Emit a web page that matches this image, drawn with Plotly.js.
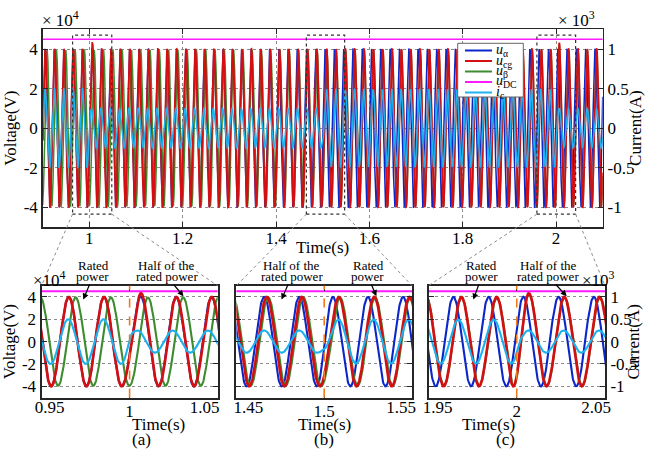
<!DOCTYPE html>
<html><head><meta charset="utf-8">
<script src="https://cdn.plot.ly/plotly-3.0.1.min.js"></script>
<style>html,body{margin:0;padding:0;background:#fff}#chart{width:645px;height:449px}</style>
</head><body><div id="chart"></div>
<script>
// ================= data =================
const seriesNames = ['<i>u</i><sub>α</sub>', '<i>u</i><sub>cg</sub>', '<i>u</i><sub>β</sub>', '<i>u</i><sub>DC</sub>', '<i>i</i><sub>c</sub>'];
const gridFreqHz = 50;
const timeStart = 0.9, timeEnd = 2.1, sampleStep = 0.00025;

// times (s) at which the phase of each waveform was read
const phaseKnotTimes = [0.90, 0.995, 1.005, 1.05, 1.30, 1.45, 1.495, 1.505, 1.55, 1.95, 1.995, 2.005, 2.10];
// instant of the positive peak inside each 20 ms cycle (ms)
const peakMsUalpha = [5.5, 5.5, 6.3, 6.5, 7.0, 5.8, 5.8, 4.9, 4.9, 4.1, 4.1, 3.7, 3.7];
const peakMsUcg    = [5.5, 5.5, 6.5, 6.7, 7.1, 7.3, 7.3, 8.3, 8.6, 8.6, 8.6, 6.9, 6.9];
const peakMsUbeta  = [9.4, 9.4, 10.4, 10.4, 9.0, 8.1, 8.1, 9.0, 9.0, 8.8, 8.8, 7.1, 7.1];
const peakMsIc     = [5.1, 5.1, 4.4, 4.4, 5.5, 5.8, 5.8, 8.1, 8.1, 6.9, 6.9, 6.6, 6.6];

// times (s) at which the amplitude of each waveform was read
const ampKnotTimes = [0.90, 0.999, 1.003, 1.006, 1.016, 1.499, 1.503, 1.999, 2.003, 2.006, 2.016, 2.10];
const ampUalpha = [4.0e4, 4.0e4, 4.0e4, 4.05e4, 4.0e4, 4.0e4, 4.0e4, 4.0e4, 4.0e4, 4.05e4, 4.0e4, 4.0e4];
const ampUcg    = [4.0e4, 4.0e4, 4.1e4, 4.35e4, 4.0e4, 4.0e4, 4.0e4, 4.0e4, 4.1e4, 4.35e4, 4.0e4, 4.0e4];
const ampUbeta  = [3.95e4, 3.95e4, 3.95e4, 3.95e4, 3.95e4, 3.95e4, 3.95e4, 3.95e4, 4.05e4, 4.25e4, 3.95e4, 3.95e4];
const ampIc     = [500, 500, 250, 250, 250, 250, 490, 490, 250, 250, 250, 250];
const udcVolts  = 4.5e4;

// tick labels
const mainTimeTicks = [1, 1.2, 1.4, 1.6, 1.8, 2];
const mainTimeText  = ['1', '1.2', '1.4', '1.6', '1.8', '2'];
const voltTickVals  = [-4e4, -2e4, 0, 2e4, 4e4];
const voltTickText  = ['-4', '-2', '0', '2', '4'];
const currTickVals  = [-1000, -500, 0, 500, 1000];
const currTickText  = ['-1', '-0.5', '0', '0.5', '1'];
const zoomWindows   = [[0.95, 1.05], [1.45, 1.55], [1.95, 2.05]];
const zoomTickVals  = [[0.95, 1, 1.05], [1.45, 1.5, 1.55], [1.95, 2, 2.05]];
const zoomTickText  = [['0.95', '1', '1.05'], ['1.45', '1.5', '1.55'], ['1.95', '2', '2.05']];
const stepTimes     = [1.0, 1.5, 2.0];
const panelLetters  = ['(a)', '(b)', '(c)'];
// dashed boxes drawn on the overview (s, V)
const zoomBoxT0 = [0.964, 1.465, 1.959];
const zoomBoxT1 = [1.048, 1.547, 2.042];
const zoomBoxVTop = 4.71e4, zoomBoxVBottom = -4.35e4;

// ================= build waveforms =================
function lerp(ts, vs, t) {
  if (t <= ts[0]) return vs[0];
  for (let i = 1; i < ts.length; i++) {
    if (t <= ts[i]) { const f = (t - ts[i-1]) / (ts[i] - ts[i-1]); return vs[i-1] + f * (vs[i] - vs[i-1]); }
  }
  return vs[vs.length - 1];
}
const time = [];
for (let k = 0; ; k++) { const t = timeStart + k * sampleStep; if (t > timeEnd + 1e-9) break; time.push(+t.toFixed(6)); }
function wave(peakMs, amp) {
  return time.map(t => lerp(ampKnotTimes, amp, t) *
    Math.cos(2 * Math.PI * gridFreqHz * (t - lerp(phaseKnotTimes, peakMs, t) / 1000)));
}
const uAlpha = wave(peakMsUalpha, ampUalpha);
const uCg = wave(peakMsUcg, ampUcg);
const uBeta = wave(peakMsUbeta, ampUbeta);
const iC = wave(peakMsIc, ampIc);
const uDc = time.map(() => udcVolts);

// ================= styling =================
const FONT = '"Liberation Serif", "Times New Roman", serif';
const W = 645, H = 449;
const px2x = p => p / W, px2y = p => 1 - p / H;
const COL = {ua: '#0b26c9', ucg: '#d30f12', ub: '#3d8c30', udc: '#ff1aff', ic: '#1cb2ef'};

const mainDomX = [px2x(42.7), px2x(602.7)], mainDomY = [px2y(227), px2y(29.3)];
const subDomY = [px2y(397.5), px2y(285.7)];
const subDomX = [[px2x(41.5), px2x(217.7)], [px2x(236.4), px2x(412)], [px2x(428.5), px2x(605)]];
// horizontal offset (px) of the end tick labels of each zoom panel
const edgeLabelShift = [[8, -13], [12, -11], [9, -9]];

const panels = [
  {x: 'x', yv: 'y', yi: 'y2', w: 1.5, win: [timeStart, timeEnd]},
  {x: 'x2', yv: 'y3', yi: 'y4', w: 2.1, win: zoomWindows[0]},
  {x: 'x3', yv: 'y5', yi: 'y6', w: 2.1, win: zoomWindows[1]},
  {x: 'x4', yv: 'y7', yi: 'y8', w: 2.1, win: zoomWindows[2]}
];
const drawOrder = [
  {y: uAlpha, c: COL.ua, ax: 'v', m: 1},
  {y: uBeta, c: COL.ub, ax: 'v', m: 1},
  {y: uCg, c: COL.ucg, ax: 'v', m: 1.25},
  {y: uDc, c: COL.udc, ax: 'v', m: 1},
  {y: iC, c: COL.ic, ax: 'i', m: 1}
];

const traces = [];
panels.forEach(p => {
  const i0 = time.findIndex(t => t >= p.win[0] - 0.001);
  let i1 = time.findIndex(t => t > p.win[1] + 0.001); if (i1 < 0) i1 = time.length;
  const tx = time.slice(i0, i1);
  drawOrder.forEach(s => {
    traces.push({type: 'scatter', mode: 'lines', x: tx, y: s.y.slice(i0, i1),
      xaxis: p.x, yaxis: s.ax === 'v' ? p.yv : p.yi, showlegend: false, hoverinfo: 'skip',
      line: {color: s.c, width: p.w * s.m}});
  });
});

const tickFont = {family: FONT, size: 17, color: '#000'};
const titleFont = {family: FONT, size: 17, color: '#000'};
const axBase = {showline: true, linecolor: '#262626', linewidth: 1.5, mirror: 'ticks', ticks: 'inside',
  ticklen: 5, tickwidth: 1, tickcolor: '#262626', zeroline: false, showgrid: false, tickfont: tickFont, fixedrange: true};
const gridStyle = {showgrid: true, gridcolor: '#8c8c8c', griddash: 'dot', gridwidth: 1};

const layout = {
  width: W, height: H, margin: {l: 0, r: 0, t: 0, b: 0}, paper_bgcolor: '#fff', plot_bgcolor: 'rgba(0,0,0,0)',
  showlegend: false, font: {family: FONT, color: '#000'},
  xaxis: Object.assign({}, axBase, gridStyle, {domain: mainDomX, range: [timeStart, timeEnd], anchor: 'y',
    tickvals: mainTimeTicks, ticktext: mainTimeText, ticklabelstandoff: -5}),
  yaxis: Object.assign({}, axBase, gridStyle, {domain: mainDomY, range: [-5e4, 5e4], anchor: 'x',
    tickvals: voltTickVals, ticktext: voltTickText, title: {text: 'Voltage(V)', font: titleFont, standoff: 2}}),
  yaxis2: Object.assign({}, axBase, {overlaying: 'y', side: 'right', anchor: 'x', range: [-1250, 1250], mirror: false,
    tickvals: currTickVals, ticktext: currTickText, title: {text: 'Current(A)', font: titleFont, standoff: 2}}),
  shapes: [], annotations: []
};
// overview x title
layout.annotations.push({xref: 'paper', yref: 'paper', x: (mainDomX[0] + mainDomX[1]) / 2, y: px2y(248),
  text: 'Time(s)', showarrow: false, font: titleFont, yanchor: 'middle'});

const subX = ['xaxis2', 'xaxis3', 'xaxis4'];
const subYV = ['yaxis3', 'yaxis5', 'yaxis7'];
const subYI = ['yaxis4', 'yaxis6', 'yaxis8'];
const yNames = ['y3', 'y5', 'y7'];
const xNames = ['x2', 'x3', 'x4'];
let extraAxis = 5;
zoomWindows.forEach((win, k) => {
  layout[subX[k]] = Object.assign({}, axBase, {linewidth: 2, domain: subDomX[k], range: win, anchor: yNames[k],
    tickvals: [zoomTickVals[k][1]], ticktext: [zoomTickText[k][1]], ticklabelstandoff: -3});
  // end tick labels on overlaid axes, nudged inward as in the figure
  [0, 2].forEach((j, side) => {
    const nm = 'x' + extraAxis;
    layout['xaxis' + extraAxis] = {overlaying: xNames[k], anchor: yNames[k], range: win, showline: false, ticks: '',
      showgrid: false, zeroline: false, tickvals: [zoomTickVals[k][j]], ticktext: [zoomTickText[k][j]],
      tickfont: tickFont, ticklabelstandoff: -3, ticklabelshift: edgeLabelShift[k][side], fixedrange: true};
    traces.push({type: 'scatter', mode: 'lines', x: [], y: [], xaxis: nm, yaxis: yNames[k], showlegend: false, hoverinfo: 'skip'});
    extraAxis++;
  });
  const yv = Object.assign({}, axBase, gridStyle, {linewidth: 2, domain: subDomY, range: [-5e4, 5e4], anchor: xNames[k],
    tickvals: voltTickVals, ticktext: voltTickText, showticklabels: k === 0});
  if (k === 0) yv.title = {text: 'Voltage(V)', font: titleFont, standoff: 2};
  layout[subYV[k]] = yv;
  if (k === 2) {
    layout[subYI[k]] = Object.assign({}, axBase, {overlaying: yNames[k], side: 'right', anchor: xNames[k], range: [-1250, 1250],
      mirror: false, linewidth: 2, tickvals: currTickVals, ticktext: currTickText});
    layout.annotations.push({xref: 'paper', yref: 'paper', x: px2x(634), y: (subDomY[0] + subDomY[1]) / 2,
      text: 'Current(A)', textangle: -90, showarrow: false, font: titleFont, xanchor: 'center', yanchor: 'middle'});
  } else {
    layout[subYI[k]] = {overlaying: yNames[k], anchor: xNames[k], range: [-1250, 1250], visible: false, fixedrange: true};
  }
  const cx = (subDomX[k][0] + subDomX[k][1]) / 2;
  layout.annotations.push({xref: 'paper', yref: 'paper', x: cx, y: px2y(424),
    text: 'Time(s)', showarrow: false, font: titleFont, yanchor: 'middle'});
  layout.annotations.push({xref: 'paper', yref: 'paper', x: cx, y: px2y(439),
    text: panelLetters[k], showarrow: false, font: titleFont, yanchor: 'middle'});
  // event marker
  layout.shapes.push({type: 'line', xref: xNames[k], yref: yNames[k] + ' domain', x0: stepTimes[k], x1: stepTimes[k], y0: 0, y1: 1,
    line: {color: '#f07a1c', width: 1.6, dash: 'dash'}, layer: 'above'});
});

// dashed boxes on overview and connectors to the zoom panels
const mainPX = t => mainDomX[0] + (t - timeStart) / (timeEnd - timeStart) * (mainDomX[1] - mainDomX[0]);
const mainPY = v => mainDomY[0] + (v + 5e4) / 1e5 * (mainDomY[1] - mainDomY[0]);
zoomBoxT0.forEach((t0, k) => {
  const t1 = zoomBoxT1[k];
  layout.shapes.push({type: 'rect', xref: 'x', yref: 'y', x0: t0, x1: t1, y0: zoomBoxVBottom, y1: zoomBoxVTop,
    line: {color: '#333', width: 1.2, dash: 'dot'}, layer: 'above'});
  layout.shapes.push({type: 'line', xref: 'paper', yref: 'paper', x0: mainPX(t0), y0: mainPY(zoomBoxVBottom), x1: subDomX[k][0], y1: subDomY[1],
    line: {color: '#8a8a8a', width: 1, dash: 'dot'}, layer: 'above'});
  layout.shapes.push({type: 'line', xref: 'paper', yref: 'paper', x0: mainPX(t1), y0: mainPY(zoomBoxVBottom), x1: subDomX[k][1], y1: subDomY[1],
    line: {color: '#8a8a8a', width: 1, dash: 'dot'}, layer: 'above'});
});

// exponent labels
const expo = [
  {t: '× 10<sup>4</sup>', x: 40, y: 19},
  {t: '× 10<sup>3</sup>', x: 556, y: 19},
  {t: '×10<sup>4</sup>', x: 31, y: 279},
  {t: '×10<sup>3</sup>', x: 580, y: 279}
];
expo.forEach(e => layout.annotations.push({xref: 'paper', yref: 'paper', x: px2x(e.x), y: px2y(e.y), xanchor: 'left', yanchor: 'middle',
  text: e.t, showarrow: false, font: {family: FONT, size: 17, color: '#000'}}));

// operating-point labels with arrows
const notes = [
  {l1: 'Rated', l2: 'power', xa: 'x2', ya: 'y3', t: 0.9737, v: 3.76e4, cx: 93, hx: 83.3, hy: 300},
  {l1: 'Half of the', l2: 'rated power', xa: 'x2', ya: 'y3', t: 1.0306, v: 4.06e4, cx: 166.7, hx: 183.3, hy: 296.7},
  {l1: 'Half of the', l2: 'rated power', xa: 'x3', ya: 'y5', t: 1.4757, v: 3.76e4, cx: 291.7, hx: 281.7, hy: 300},
  {l1: 'Rated', l2: 'power', xa: 'x3', ya: 'y5', t: 1.5297, v: 4.06e4, cx: 368.3, hx: 376.7, hy: 296.7},
  {l1: 'Rated', l2: 'power', xa: 'x4', ya: 'y7', t: 1.9754, v: 3.76e4, cx: 481.7, hx: 473.3, hy: 300},
  {l1: 'Half of the', l2: 'rated power', xa: 'x4', ya: 'y7', t: 2.0283, v: 4.06e4, cx: 548.3, hx: 566.7, hy: 296.7}
];
const noteFont = {family: FONT, size: 13, color: '#000'};
notes.forEach(n => {
  layout.annotations.push({xref: 'paper', yref: 'paper', x: px2x(n.cx), y: px2y(265), text: n.l1, showarrow: false,
    font: noteFont, xanchor: 'center', yanchor: 'middle'});
  layout.annotations.push({xref: n.xa, yref: n.ya, x: n.t, y: n.v, text: n.l2, showarrow: true,
    ax: n.cx - n.hx, ay: 277 - n.hy, arrowhead: 2, arrowsize: 1, arrowwidth: 1.2, arrowcolor: '#000',
    font: noteFont, borderpad: 0});
});

// legend drawn as a boxed key
const legendColors = [COL.ua, COL.ucg, COL.ub, COL.udc, COL.ic];
layout.shapes.push({type: 'rect', xref: 'paper', yref: 'paper', x0: px2x(457.7), x1: px2x(523.3), y0: px2y(97), y1: px2y(43.3),
  fillcolor: '#fff', line: {color: '#666', width: 1}, layer: 'above'});
seriesNames.forEach((nm, i) => {
  const yy = 50.5 + i * 10.5;
  layout.shapes.push({type: 'line', xref: 'paper', yref: 'paper', x0: px2x(465), x1: px2x(492), y0: px2y(yy), y1: px2y(yy),
    line: {color: legendColors[i], width: 2}, layer: 'above'});
  layout.annotations.push({xref: 'paper', yref: 'paper', x: px2x(495), y: px2y(yy), xanchor: 'left', yanchor: 'middle',
    text: nm, showarrow: false, font: {family: FONT, size: 14, color: '#000'}, borderpad: 0});
});

Plotly.newPlot('chart', traces, layout, {displayModeBar: false, staticPlot: true});
</script></body></html>
